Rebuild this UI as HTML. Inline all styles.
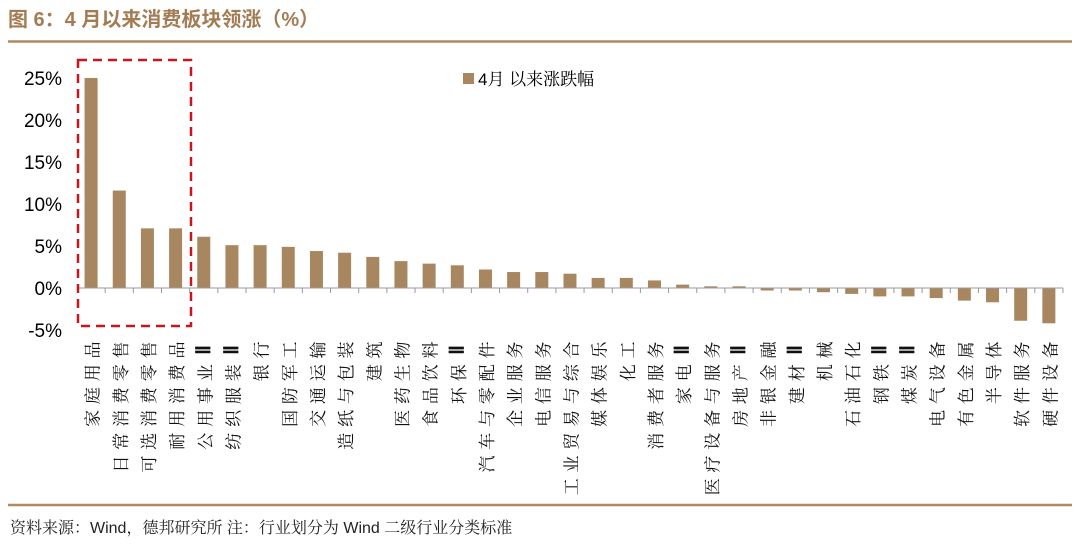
<!DOCTYPE html>
<html><head><meta charset="utf-8"><style>
body{margin:0;background:#fff;width:1080px;height:541px;overflow:hidden;font-family:"Liberation Sans","Noto Serif CJK SC","Noto Sans CJK SC",serif;}
</style></head><body>
<svg width="1080" height="541" xmlns="http://www.w3.org/2000/svg">
<text x="8" y="26" font-size="20" font-weight="bold" fill="#a47c54" font-family="'Liberation Sans','Noto Sans CJK SC',sans-serif">图 6：4 月以来消费板块领涨（%）</text>
<line x1="8" y1="41.5" x2="1072" y2="41.5" stroke="#b08a64" stroke-width="2.5"/>
<line x1="8" y1="505" x2="1072" y2="505" stroke="#b08a64" stroke-width="2.5"/>
<text x="10" y="533" font-size="16" fill="#222" font-family="'Liberation Sans','Noto Serif CJK SC',serif">资料来源：Wind，德邦研究所 注：行业划分为 Wind 二级行业分类标准</text>
<g font-size="19" fill="#000" text-anchor="end" font-family="'Liberation Sans',sans-serif">
<text x="62" y="85">25%</text><text x="62" y="127">20%</text><text x="62" y="169">15%</text><text x="62" y="211">10%</text><text x="62" y="253">5%</text><text x="62" y="295">0%</text><text x="62" y="337">-5%</text>
</g>
<rect x="463" y="73" width="11" height="11" fill="#a88660"/>
<text x="478" y="85" font-size="17" fill="#000" font-family="'Liberation Sans','Noto Serif CJK SC',serif">4月 以来涨跌幅</text>
<g id="bars" fill="#a88660"></g>
<line x1="77" y1="288" x2="1063" y2="288" stroke="#999" stroke-width="1"/>
<g id="ticks" stroke="#999"></g>
<g id="labels" font-size="17" fill="#111" font-family="'Noto Serif CJK SC','Noto Serif CJK JP',serif"></g>
<rect x="78" y="60" width="113" height="266" fill="none" stroke="#c8161d" stroke-width="2.5" stroke-dasharray="9,6"/>
</svg>
<script>
var names=["家庭用品","日常消费零售","可选消费零售","耐用消费品","公用事业Ⅱ","纺织服装Ⅱ","银行","国防军工","交通运输","造纸与包装","建筑","医药生物","食品饮料","环保Ⅱ","汽车与零配件","企业服务","电信服务","工业贸易与综合","媒体娱乐","化工","消费者服务","家电Ⅱ","医疗设备与服务","房地产Ⅱ","非银金融","建材Ⅱ","机械","石油石化","钢铁Ⅱ","煤炭Ⅱ","电气设备","有色金属","半导体","软件服务","硬件设备"];
var v=[25,11.6,7.1,7.1,6.1,5.1,5.1,4.9,4.4,4.2,3.7,3.2,2.9,2.7,2.2,1.9,1.9,1.7,1.2,1.2,0.9,0.4,0.2,0.2,-0.3,-0.3,-0.5,-0.7,-1.0,-1.0,-1.2,-1.5,-1.7,-3.9,-4.2];
var ns="http://www.w3.org/2000/svg",s=8.4,z=288,w=28.17,x0=77;
var B=document.getElementById("bars"),T=document.getElementById("ticks"),L=document.getElementById("labels");
for(var i=0;i<35;i++){var c=x0+w*(i+0.5);var h=Math.abs(v[i])*s;
var r=document.createElementNS(ns,"rect");r.setAttribute("x",c-6.5);r.setAttribute("width",13);r.setAttribute("y",v[i]>=0?z-h:z);r.setAttribute("height",Math.max(h,1));B.appendChild(r);
var t=document.createElementNS(ns,"line");var tx=x0+w*(i+1);t.setAttribute("x1",tx);t.setAttribute("x2",tx);t.setAttribute("y1",z);t.setAttribute("y2",z+5);T.appendChild(t);
var chars=Array.from(names[i]);var n=chars.length;
for(var j=0;j<n;j++){var e=document.createElementNS(ns,"text");var cy=350+(n-1-j)*22.8;
e.setAttribute("x",0);e.setAttribute("y",0);e.setAttribute("text-anchor","middle");e.setAttribute("dominant-baseline","central");
e.setAttribute("transform","translate("+c+","+cy+") rotate(-90)");
if(chars[j]=="Ⅱ"){e.setAttribute("font-family","'Liberation Serif',serif");e.setAttribute("font-weight","bold");e.setAttribute("font-size","20");}
e.textContent=chars[j];L.appendChild(e);}}
</script>
</body></html>
